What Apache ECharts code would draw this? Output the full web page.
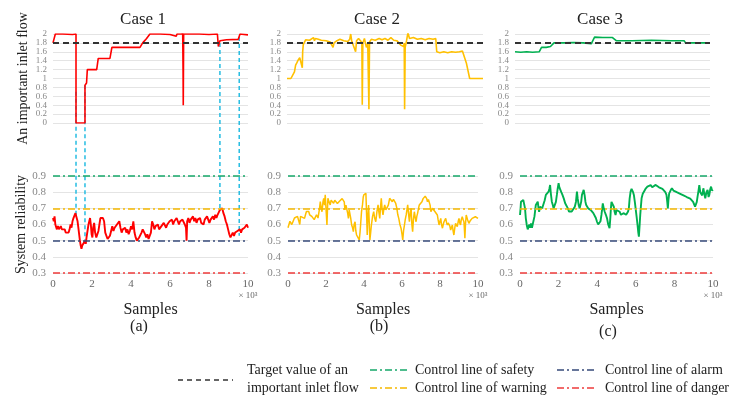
<!DOCTYPE html>
<html>
<head>
<meta charset="utf-8">
<script src="https://cdn.jsdelivr.net/npm/echarts@6/dist/echarts.min.js"></script>
<style>
html,body{margin:0;padding:0;background:#fff;}
#main{width:734px;height:399px;}
</style>
</head>
<body>
<div id="main"></div>
<script>
// ---- data (x in samples x10^3) ----
var caseNames=['Case 1','Case 2','Case 3']
var caseTags=['(a)','(b)','(c)']
var targetFlow=1.8
var controlLevels=[0.9,0.7,0.5,0.3]
var controlNames=['Control line of safety','Control line of warning','Control line of alarm','Control line of danger']
var xTicks=[0,2,4,6,8,10]

var redFlow=[[0,1.8],[0.12,2.0],[0.5,2.0],[1.0,1.99],[1.18,2.0],[1.18,0],[1.64,0],[1.64,0.85],[1.72,0.9],[1.76,1.2],[2.24,1.2],[2.32,1.45],[2.92,1.45],[3.02,1.7],[4.46,1.7],[4.6,1.8],[4.8,1.9],[4.97,2.0],[5.5,2.0],[6.0,1.99],[6.32,1.95],[6.36,2.0],[6.62,2.0],[6.65,2.06],[6.67,1.2],[6.68,0.4],[6.7,2.0],[7.5,2.0],[8.0,1.99],[8.43,2.0],[8.48,1.72],[8.56,1.85],[8.9,1.87],[9.5,1.88],[9.59,2.0],[10.0,1.98]]

var yelFlow=[[0,1.0],[0.2,1.0],[0.3,1.03],[0.38,1.15],[0.44,1.3],[0.5,1.35],[0.55,1.4],[0.6,1.42],[0.65,1.47],[0.7,1.49],[0.74,1.45],[0.78,1.24],[0.8,1.6],[0.83,1.76],[0.88,1.8],[0.95,1.87],[1.05,1.9],[1.15,1.86],[1.25,1.88],[1.35,1.92],[1.4,1.85],[1.45,1.9],[1.6,1.88],[1.75,1.86],[1.85,1.83],[2.0,1.85],[2.2,1.82],[2.3,1.78],[2.35,1.7],[2.4,1.8],[2.55,1.85],[2.7,1.88],[2.9,1.85],[3.1,1.83],[3.2,1.88],[3.25,2.0],[3.3,1.85],[3.4,1.86],[3.5,1.6],[3.55,1.85],[3.65,1.9],[3.75,1.85],[3.82,1.8],[3.84,0.41],[3.87,1.8],[3.95,1.9],[4.05,1.7],[4.12,1.78],[4.18,0.31],[4.21,1.82],[4.3,1.88],[4.5,1.86],[4.7,1.9],[4.85,1.87],[5.0,1.9],[5.15,1.86],[5.3,1.92],[5.45,1.86],[5.6,1.85],[5.71,1.8],[5.8,1.75],[5.95,1.72],[5.98,1.8],[6.0,0.31],[6.03,1.7],[6.1,1.85],[6.17,2.03],[6.25,1.9],[6.45,1.92],[6.65,1.88],[6.85,1.9],[7.05,1.87],[7.25,1.9],[7.45,1.88],[7.59,1.9],[7.64,1.6],[7.8,1.58],[8.0,1.6],[8.2,1.58],[8.4,1.6],[8.6,1.59],[8.8,1.6],[8.95,1.62],[9.03,1.58],[9.15,1.35],[9.32,1.0],[9.6,1.0],[10.0,1.0]]

var grnFlow=[[0,1.6],[0.3,1.59],[0.6,1.6],[0.9,1.59],[1.24,1.6],[1.36,1.7],[1.6,1.7],[1.82,1.72],[2.0,1.8],[2.5,1.8],[3.0,1.81],[3.5,1.8],[3.91,1.78],[4.08,1.93],[4.5,1.92],[5.0,1.92],[5.19,1.85],[6.0,1.85],[7.0,1.86],[8.0,1.85],[8.67,1.85],[8.75,1.8],[9.5,1.8],[10,1.8]]

var redRel=[[0.0,0.64],[0.04,0.62],[0.08,0.65],[0.12,0.60],[0.16,0.61],[0.2,0.57],[0.25,0.59],[0.3,0.57],[0.35,0.58],[0.4,0.59],[0.45,0.57],[0.5,0.58],[0.55,0.56],[0.6,0.57],[0.65,0.55],[0.7,0.56],[0.75,0.54],[0.8,0.55],[0.85,0.57],[0.9,0.6],[0.95,0.58],[1.0,0.62],[1.05,0.64],[1.1,0.63],[1.15,0.67],[1.18,0.66],[1.22,0.68],[1.26,0.62],[1.3,0.58],[1.34,0.54],[1.38,0.5],[1.42,0.47],[1.46,0.45],[1.5,0.47],[1.55,0.46],[1.6,0.47],[1.64,0.5],[1.68,0.48],[1.72,0.52],[1.77,0.53],[1.82,0.6],[1.86,0.62],[1.9,0.64],[1.94,0.6],[1.98,0.54],[2.02,0.52],[2.06,0.58],[2.11,0.61],[2.16,0.55],[2.22,0.52],[2.28,0.51],[2.33,0.56],[2.38,0.6],[2.43,0.64],[2.5,0.65],[2.56,0.64],[2.62,0.62],[2.68,0.55],[2.74,0.53],[2.8,0.51],[2.86,0.5],[2.92,0.53],[2.98,0.56],[3.04,0.59],[3.1,0.56],[3.16,0.58],[3.22,0.57],[3.28,0.6],[3.34,0.59],[3.4,0.62],[3.46,0.58],[3.52,0.55],[3.58,0.57],[3.64,0.56],[3.7,0.58],[3.76,0.55],[3.82,0.57],[3.88,0.54],[3.94,0.56],[4.0,0.59],[4.06,0.57],[4.12,0.62],[4.18,0.55],[4.24,0.52],[4.3,0.5],[4.36,0.49],[4.42,0.52],[4.48,0.51],[4.54,0.55],[4.6,0.57],[4.66,0.56],[4.72,0.54],[4.78,0.52],[4.84,0.54],[4.9,0.51],[4.96,0.5],[5.02,0.55],[5.08,0.62],[5.14,0.6],[5.2,0.57],[5.26,0.59],[5.32,0.58],[5.38,0.6],[5.44,0.57],[5.5,0.56],[5.56,0.59],[5.62,0.58],[5.68,0.61],[5.74,0.6],[5.8,0.58],[5.86,0.6],[5.92,0.59],[5.98,0.62],[6.04,0.61],[6.1,0.63],[6.16,0.6],[6.22,0.62],[6.28,0.61],[6.34,0.64],[6.4,0.62],[6.46,0.6],[6.52,0.62],[6.58,0.61],[6.64,0.63],[6.7,0.62],[6.76,0.6],[6.82,0.58],[6.85,0.5],[6.88,0.62],[6.94,0.64],[7.0,0.61],[7.06,0.63],[7.12,0.62],[7.18,0.65],[7.24,0.62],[7.3,0.64],[7.36,0.61],[7.42,0.63],[7.48,0.62],[7.54,0.64],[7.6,0.61],[7.66,0.62],[7.72,0.6],[7.78,0.63],[7.84,0.62],[7.9,0.65],[7.96,0.63],[8.02,0.61],[8.08,0.63],[8.14,0.62],[8.2,0.65],[8.26,0.63],[8.32,0.66],[8.38,0.64],[8.44,0.66],[8.5,0.67],[8.56,0.69],[8.62,0.68],[8.68,0.7],[8.74,0.67],[8.8,0.65],[8.86,0.62],[8.92,0.6],[8.98,0.57],[9.04,0.54],[9.1,0.52],[9.16,0.53],[9.22,0.55],[9.28,0.53],[9.34,0.55],[9.4,0.54],[9.46,0.56],[9.52,0.55],[9.58,0.57],[9.64,0.55],[9.7,0.57],[9.76,0.56],[9.82,0.58],[9.88,0.57],[9.94,0.6],[10.0,0.58]]

var yelRel=[[0,0.58],[0.05,0.57],[0.1,0.62],[0.14,0.61],[0.2,0.6],[0.28,0.6],[0.34,0.64],[0.4,0.645],[0.5,0.65],[0.57,0.648],[0.62,0.6],[0.66,0.65],[0.75,0.648],[0.87,0.638],[0.92,0.66],[0.97,0.68],[1.03,0.67],[1.09,0.68],[1.14,0.66],[1.18,0.648],[1.25,0.65],[1.32,0.638],[1.38,0.63],[1.44,0.628],[1.5,0.66],[1.53,0.659],[1.58,0.64],[1.62,0.648],[1.66,0.7],[1.7,0.741],[1.75,0.7],[1.79,0.679],[1.84,0.74],[1.88,0.762],[1.92,0.72],[1.96,0.783],[2.0,0.7],[2.05,0.597],[2.08,0.7],[2.1,0.762],[2.16,0.74],[2.22,0.721],[2.27,0.75],[2.31,0.762],[2.36,0.74],[2.4,0.731],[2.46,0.75],[2.53,0.752],[2.6,0.73],[2.66,0.721],[2.72,0.745],[2.78,0.741],[2.85,0.76],[2.92,0.772],[2.96,0.74],[3.0,0.69],[3.05,0.72],[3.09,0.721],[3.14,0.67],[3.18,0.638],[3.22,0.69],[3.26,0.7],[3.3,0.64],[3.35,0.597],[3.4,0.58],[3.44,0.556],[3.48,0.6],[3.53,0.617],[3.57,0.56],[3.61,0.535],[3.68,0.52],[3.75,0.504],[3.79,0.55],[3.82,0.597],[3.87,0.68],[3.92,0.721],[3.96,0.77],[3.99,0.783],[4.05,0.78],[4.1,0.793],[4.14,0.65],[4.17,0.535],[4.2,0.64],[4.24,0.721],[4.28,0.6],[4.31,0.504],[4.35,0.55],[4.39,0.597],[4.45,0.65],[4.51,0.679],[4.56,0.64],[4.62,0.617],[4.68,0.68],[4.74,0.721],[4.78,0.68],[4.83,0.638],[4.87,0.71],[4.91,0.762],[4.95,0.7],[5.0,0.659],[5.05,0.7],[5.09,0.721],[5.15,0.69],[5.21,0.679],[5.28,0.72],[5.35,0.762],[5.42,0.75],[5.49,0.741],[5.55,0.755],[5.61,0.762],[5.67,0.73],[5.73,0.7],[5.78,0.66],[5.83,0.638],[5.89,0.6],[5.95,0.577],[6.0,0.54],[6.04,0.504],[6.08,0.56],[6.13,0.597],[6.17,0.63],[6.22,0.659],[6.26,0.69],[6.3,0.721],[6.35,0.66],[6.39,0.617],[6.44,0.68],[6.48,0.7],[6.52,0.6],[6.56,0.556],[6.6,0.63],[6.65,0.679],[6.7,0.64],[6.74,0.617],[6.78,0.65],[6.82,0.669],[6.87,0.7],[6.91,0.721],[6.98,0.73],[7.05,0.741],[7.11,0.76],[7.17,0.772],[7.22,0.775],[7.26,0.783],[7.3,0.76],[7.34,0.741],[7.39,0.755],[7.43,0.762],[7.48,0.72],[7.52,0.679],[7.56,0.69],[7.6,0.7],[7.67,0.69],[7.74,0.679],[7.8,0.67],[7.86,0.659],[7.9,0.63],[7.95,0.597],[8.0,0.62],[8.04,0.638],[8.08,0.6],[8.13,0.577],[8.17,0.6],[8.21,0.617],[8.26,0.625],[8.3,0.638],[8.35,0.61],[8.39,0.597],[8.43,0.61],[8.47,0.617],[8.52,0.59],[8.56,0.566],[8.6,0.58],[8.65,0.597],[8.69,0.56],[8.73,0.535],[8.78,0.58],[8.82,0.607],[8.87,0.6],[8.91,0.587],[8.96,0.62],[9.0,0.638],[9.04,0.61],[9.08,0.597],[9.12,0.63],[9.17,0.648],[9.22,0.63],[9.26,0.617],[9.29,0.56],[9.31,0.515],[9.34,0.6],[9.38,0.659],[9.45,0.63],[9.52,0.607],[9.6,0.625],[9.69,0.638],[9.78,0.645],[9.86,0.648],[9.93,0.64],[10.0,0.638]]

var grnRel=[[0,0.659],[0.03,0.7],[0.05,0.741],[0.1,0.73],[0.17,0.752],[0.22,0.74],[0.26,0.7],[0.3,0.64],[0.35,0.597],[0.4,0.57],[0.43,0.577],[0.48,0.6],[0.52,0.58],[0.57,0.607],[0.62,0.58],[0.69,0.587],[0.75,0.65],[0.82,0.721],[0.87,0.73],[0.92,0.741],[0.96,0.7],[0.99,0.679],[1.04,0.71],[1.09,0.721],[1.15,0.7],[1.22,0.7],[1.28,0.75],[1.34,0.783],[1.4,0.78],[1.48,0.803],[1.52,0.82],[1.56,0.844],[1.6,0.79],[1.65,0.741],[1.7,0.72],[1.74,0.7],[1.78,0.69],[1.82,0.69],[1.86,0.74],[1.91,0.783],[1.95,0.82],[2.0,0.855],[2.04,0.83],[2.08,0.824],[2.14,0.8],[2.2,0.783],[2.27,0.76],[2.34,0.731],[2.4,0.72],[2.48,0.7],[2.54,0.68],[2.6,0.669],[2.68,0.68],[2.72,0.67],[2.78,0.679],[2.84,0.71],[2.9,0.741],[2.95,0.803],[2.99,0.76],[3.04,0.721],[3.09,0.7],[3.13,0.7],[3.17,0.74],[3.21,0.783],[3.26,0.8],[3.3,0.814],[3.35,0.78],[3.39,0.741],[3.43,0.72],[3.47,0.71],[3.53,0.7],[3.59,0.7],[3.66,0.69],[3.73,0.69],[3.8,0.67],[3.87,0.659],[3.93,0.64],[3.99,0.617],[4.05,0.6],[4.11,0.597],[4.17,0.62],[4.22,0.659],[4.26,0.7],[4.29,0.731],[4.34,0.7],[4.39,0.679],[4.45,0.66],[4.51,0.638],[4.57,0.6],[4.64,0.577],[4.68,0.64],[4.71,0.7],[4.74,0.74],[4.77,0.752],[4.82,0.73],[4.86,0.71],[4.9,0.68],[4.95,0.659],[5.0,0.69],[5.03,0.7],[5.1,0.68],[5.16,0.679],[5.23,0.66],[5.3,0.648],[5.36,0.67],[5.43,0.679],[5.5,0.66],[5.56,0.659],[5.6,0.68],[5.64,0.7],[5.68,0.76],[5.73,0.803],[5.78,0.82],[5.82,0.824],[5.86,0.8],[5.9,0.783],[5.95,0.74],[5.99,0.7],[6.04,0.65],[6.09,0.597],[6.13,0.55],[6.16,0.525],[6.2,0.6],[6.23,0.659],[6.27,0.72],[6.3,0.762],[6.36,0.79],[6.42,0.803],[6.5,0.82],[6.6,0.834],[6.68,0.84],[6.77,0.844],[6.85,0.83],[6.94,0.834],[7.03,0.845],[7.12,0.844],[7.2,0.83],[7.29,0.834],[7.38,0.82],[7.46,0.814],[7.53,0.8],[7.59,0.783],[7.63,0.74],[7.66,0.7],[7.69,0.75],[7.73,0.793],[7.8,0.81],[7.87,0.824],[7.95,0.81],[8.04,0.814],[8.12,0.8],[8.21,0.803],[8.3,0.79],[8.39,0.793],[8.47,0.78],[8.56,0.783],[8.64,0.77],[8.73,0.772],[8.82,0.76],[8.91,0.752],[8.97,0.74],[9.03,0.731],[9.07,0.71],[9.11,0.7],[9.16,0.74],[9.2,0.772],[9.25,0.81],[9.29,0.844],[9.34,0.8],[9.39,0.803],[9.44,0.78],[9.5,0.824],[9.55,0.79],[9.6,0.762],[9.66,0.8],[9.72,0.814],[9.77,0.77],[9.81,0.783],[9.86,0.82],[9.9,0.834],[9.95,0.81],[10.0,0.814]]

// case 1 event markers (top value / bottom value)
var markX=[1.18,1.64,8.56,9.55]
var markTop=[0.7,0.85,1.8,1.93]
var markBottom=[0.659,0.504,0.70,0.53]

var flowSets=[redFlow,yelFlow,grnFlow]
var relSets=[redRel,yelRel,grnRel]
var caseColors=['#ff0000','#ffc000','#00b050']
var controlColors=['#16a86a','#f5b800','#36497a','#ee3b3b']

var serif="'Liberation Serif','Times New Roman',serif"
var dashDot=[7,3,2,3]

var topGrids=[{left:53,width:195},{left:287,width:196},{left:515,width:195}]
var botGrids=[{left:53,width:195},{left:288,width:190},{left:520,width:193}]

function drawChar(){
    var myChart=echarts.init(document.getElementById('main'))
    var grid=[],xAxis=[],yAxis=[],series=[]
    for(var i=0;i<3;i++){
        grid.push({left:topGrids[i].left,width:topGrids[i].width,top:34,height:89})
        xAxis.push({type:'value',gridIndex:i,min:0,max:10,show:false})
        yAxis.push({type:'value',gridIndex:i,min:0,max:2,interval:0.2,
            name:i==0?'An important inlet flow':'',nameLocation:'middle',nameGap:23,
            nameTextStyle:{fontFamily:serif,fontSize:14,color:'#222'},
            axisLine:{show:false},axisTick:{show:false},
            axisLabel:{fontFamily:serif,fontSize:9,lineHeight:8,color:'#888',margin:6,showMinLabel:true,showMaxLabel:true,hideOverlap:false},
            splitLine:{lineStyle:{color:'#e4e4e4'}}})
    }
    for(var i=0;i<3;i++){
        grid.push({left:botGrids[i].left,width:botGrids[i].width,top:176,height:97})
        xAxis.push({type:'value',gridIndex:3+i,min:0,max:10,interval:2,
            name:'Samples',nameLocation:'middle',nameGap:29,
            nameTextStyle:{fontFamily:serif,fontSize:16,color:'#222'},
            axisLine:{show:false},axisTick:{show:false},splitLine:{show:false},
            axisLabel:{fontFamily:serif,fontSize:11,color:'#666',margin:6,
                formatter:function(v){return v==10?'10\n{s|× 10³}':v},
                rich:{s:{fontFamily:serif,fontSize:9,color:'#666',padding:[1,0,0,0]}}}})
        yAxis.push({type:'value',gridIndex:3+i,min:0.3,max:0.9,interval:0.1,
            name:i==0?'System reliability':'',nameLocation:'middle',nameGap:24,
            nameTextStyle:{fontFamily:serif,fontSize:14,color:'#222'},
            axisLine:{show:false},axisTick:{show:false},
            axisLabel:{fontFamily:serif,fontSize:11,color:'#888',margin:7,showMinLabel:true,showMaxLabel:true},
            splitLine:{lineStyle:{color:'#e4e4e4'}}})
    }
    for(var i=0;i<3;i++){
        series.push({type:'line',xAxisIndex:i,yAxisIndex:i,data:flowSets[i],symbol:'none',z:3,
            lineStyle:{color:caseColors[i],width:1.6},
            markLine:{silent:true,symbol:'none',label:{show:false},
                data:[{yAxis:targetFlow,lineStyle:{color:'#333',width:2,type:[6,4]}}]}})
    }
    for(var i=0;i<3;i++){
        var ml=[]
        for(var k=0;k<controlLevels.length;k++){
            ml.push({yAxis:controlLevels[k],lineStyle:{color:controlColors[k],width:1.6,type:dashDot}})
        }
        series.push({type:'line',xAxisIndex:3+i,yAxisIndex:3+i,data:[],z:1,
            markLine:{silent:true,symbol:'none',label:{show:false},data:ml}})
        series.push({type:'line',xAxisIndex:3+i,yAxisIndex:3+i,data:relSets[i],symbol:'none',z:3,
            lineStyle:{color:caseColors[i],width:i==1?1.5:1.9}})
    }
    myChart.setOption({animation:false,grid:grid,xAxis:xAxis,yAxis:yAxis,series:series})

    var g=[]
    var titleX=[143,377,600]
    for(var i=0;i<3;i++){
        g.push({type:'text',x:titleX[i],y:20,style:{text:caseNames[i],font:'17px '+serif,fill:'#222',textAlign:'center',textVerticalAlign:'middle'}})
    }
    var tagPos=[[139,327],[379,327],[608,332]]
    for(var i=0;i<3;i++){
        g.push({type:'text',x:tagPos[i][0],y:tagPos[i][1],style:{text:caseTags[i],font:'16px '+serif,fill:'#222',textAlign:'center',textVerticalAlign:'middle'}})
    }
    // event connectors on case 1
    for(var k=0;k<markX.length;k++){
        var p1=myChart.convertToPixel({gridIndex:0},[markX[k],markTop[k]])
        var p2=myChart.convertToPixel({gridIndex:3},[markX[k],markBottom[k]])
        g.push({type:'line',z:2,shape:{x1:p2[0],y1:p1[1],x2:p2[0],y2:p2[1]},
            style:{stroke:'#26bde2',lineWidth:1.5,lineDash:[4,3]}})
    }
    // legend
    g.push({type:'line',shape:{x1:178,y1:380,x2:233,y2:380},style:{stroke:'#333',lineWidth:1.5,lineDash:[5,4]}})
    g.push({type:'text',x:247,y:370,style:{text:'Target value of an',font:'14px '+serif,fill:'#222',textVerticalAlign:'middle'}})
    g.push({type:'text',x:247,y:388,style:{text:'important inlet flow',font:'14px '+serif,fill:'#222',textVerticalAlign:'middle'}})
    var lgPos=[[370,370],[370,388],[557,370],[557,388]]
    for(var k=0;k<4;k++){
        var lx=lgPos[k][0],ly=lgPos[k][1]
        g.push({type:'line',shape:{x1:lx,y1:ly,x2:lx+40,y2:ly},style:{stroke:controlColors[k],lineWidth:1.5,lineDash:dashDot}})
        g.push({type:'text',x:lx+(k<2?45:48),y:ly,style:{text:controlNames[k],font:'14px '+serif,fill:'#222',textVerticalAlign:'middle'}})
    }
    myChart.setOption({graphic:g})
}
drawChar()
</script>
</body>
</html>
